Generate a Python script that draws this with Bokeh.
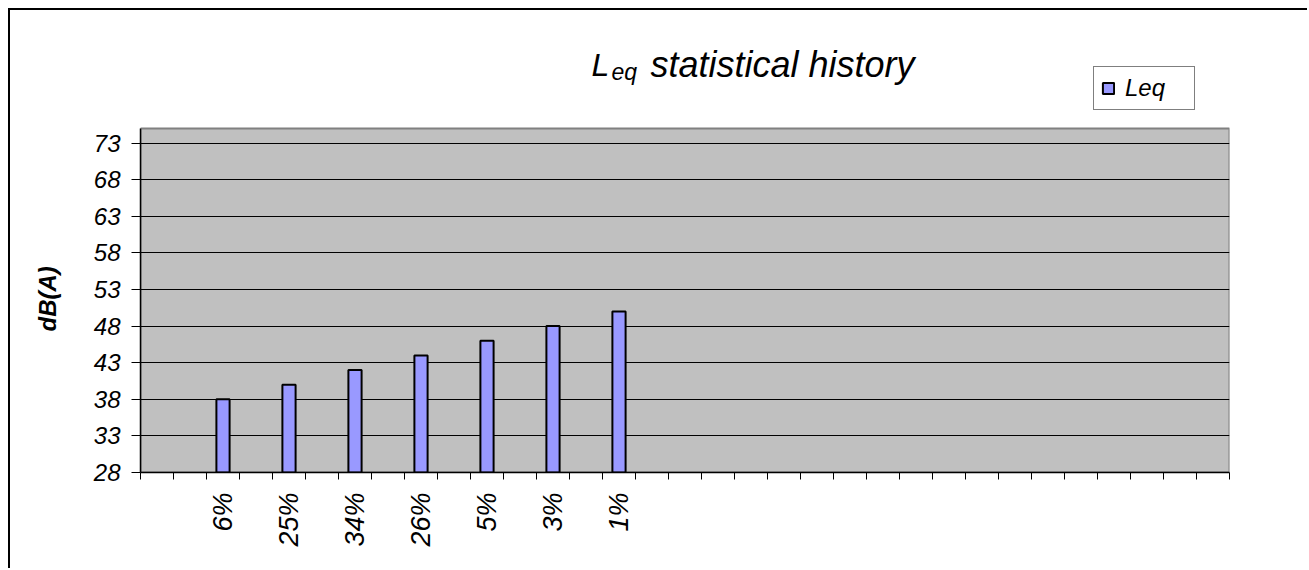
import math
from bokeh.plotting import figure
from bokeh.models import (ColumnDataSource, Range1d, FixedTicker, Label, Legend, LegendItem)
from bokeh.embed import file_html
from bokeh.resources import INLINE

# ---- data ----
categories = ["", "", "6%", "", "25%", "", "34%", "", "26%", "", "5%", "", "3%", "", "1%"] + [""] * 18
leq = [None, None, 38, None, 40, None, 42, None, 44, None, 46, None, 48, None, 50] + [None] * 18
y_ticks = [28, 33, 38, 43, 48, 53, 58, 63, 68, 73]
y_min, y_max = 28, 75
series_name = "Leq"
y_title = "dB(A)"

n = len(categories)
xs = [i + 0.5 for i, v in enumerate(leq) if v is not None]
ys = [v for v in leq if v is not None]
src = ColumnDataSource(dict(x=xs, top=ys))

FONT = "Liberation Sans"

# layout (page pixels): plot area 140..1229 x 128..472, frame extended up to y=18
OFF = 10                     # canvas offset inside page (margin 8 + 2px border)
W, H = 1309 - OFF, 570 - OFF
frame_left, frame_right, frame_top, frame_bottom = 140, 1229, 18, 472
area_top = 128
y_end = y_min + (y_max - y_min) * (frame_bottom - frame_top) / (frame_bottom - area_top)

p = figure(width=W, height=H, x_range=Range1d(0, n), y_range=Range1d(y_min, y_end),
           output_backend="svg", toolbar_location=None, title=None,
           min_border_left=frame_left - OFF, min_border_right=1309 - frame_right,
           min_border_top=frame_top - OFF, min_border_bottom=570 - frame_bottom,
           background_fill_color="white", border_fill_color="white")
p.outline_line_color = None
p.margin = (8, 0, 0, 8)
p.styles = {"border-top": "2px solid black", "border-left": "2px solid black"}

# grey plot area
p.quad(left=0, right=n, bottom=y_min, top=y_max, fill_color="#C0C0C0",
       line_color="#808080", line_width=2, level="image")

r = p.vbar(x="x", top="top", bottom=y_min, width=0.4, source=src,
           fill_color="#9999FF", line_color="black", line_width=2)

# x axis
p.xaxis.ticker = FixedTicker(ticks=[i + 0.5 for i in range(n)], minor_ticks=list(range(n + 1)))
p.xaxis.major_label_overrides = {i + 0.5: c for i, c in enumerate(categories)}
p.xaxis.major_label_orientation = math.pi / 2
p.xaxis.major_tick_out = 0
p.xaxis.major_tick_in = 0
p.xaxis.minor_tick_out = 7
p.xaxis.minor_tick_in = 0
p.xaxis.minor_tick_line_color = "black"
p.xaxis.axis_line_color = "black"
p.xaxis.axis_line_width = 1.5
p.xaxis.major_label_standoff = 13
p.xaxis.major_label_text_font = FONT
p.xaxis.major_label_text_font_style = "italic"
p.xaxis.major_label_text_font_size = "27px"
p.xaxis.major_label_text_color = "black"
p.xgrid.visible = False

# y axis
p.yaxis.ticker = FixedTicker(ticks=y_ticks)
p.yaxis.bounds = (y_min, y_max)
p.yaxis.major_tick_out = 9
p.yaxis.major_tick_in = 0
p.yaxis.minor_tick_out = 0
p.yaxis.minor_tick_in = 0
p.yaxis.major_tick_line_color = "black"
p.yaxis.axis_line_color = "black"
p.yaxis.axis_line_width = 1.5
p.yaxis.major_label_standoff = 11
p.yaxis.major_label_text_font = FONT
p.yaxis.major_label_text_font_style = "italic"
p.yaxis.major_label_text_font_size = "24px"
p.yaxis.major_label_text_color = "black"
# trailing no-break spaces shift the centred label down to the middle of the grey area
p.yaxis.axis_label = y_title + "\u00a0" * 16
p.yaxis.axis_label_text_font = FONT
p.yaxis.axis_label_text_font_style = "bold italic"
p.yaxis.axis_label_text_font_size = "24px"
p.yaxis.axis_label_text_color = "black"
p.yaxis.axis_label_standoff = 30
p.ygrid.grid_line_color = "black"
p.ygrid.grid_line_width = 1.2
p.ygrid.grid_line_alpha = 1

# title (with subscript), positions relative to frame bottom-left
common = dict(x_units="screen", y_units="screen", text_font=FONT, text_font_style="italic",
              text_color="black", text_baseline="alphabetic", text_align="left")
p.add_layout(Label(x=591 - frame_left, y=frame_bottom - 64, text="L", text_font_size="32px", **common))
p.add_layout(Label(x=611 - frame_left, y=frame_bottom - 71, text="eq", text_font_size="23px", **common))
p.add_layout(Label(x=650 - frame_left, y=frame_bottom - 64, text="statistical history",
                   text_font_size="36px", **common))

# legend
legend = Legend(items=[LegendItem(label=series_name, renderers=[r])],
                location=(1093 - frame_left, frame_bottom - 110),
                glyph_width=14, glyph_height=14, label_standoff=10, padding=7, spacing=0,
                border_line_color="black", border_line_width=1, background_fill_color="white",
                background_fill_alpha=1, label_text_font=FONT, label_text_font_style="italic",
                label_text_font_size="24px", label_text_color="black", label_height=24,
                label_width=62, margin=0)
p.add_layout(legend)

open("out.html", "w").write(file_html(p, INLINE))
